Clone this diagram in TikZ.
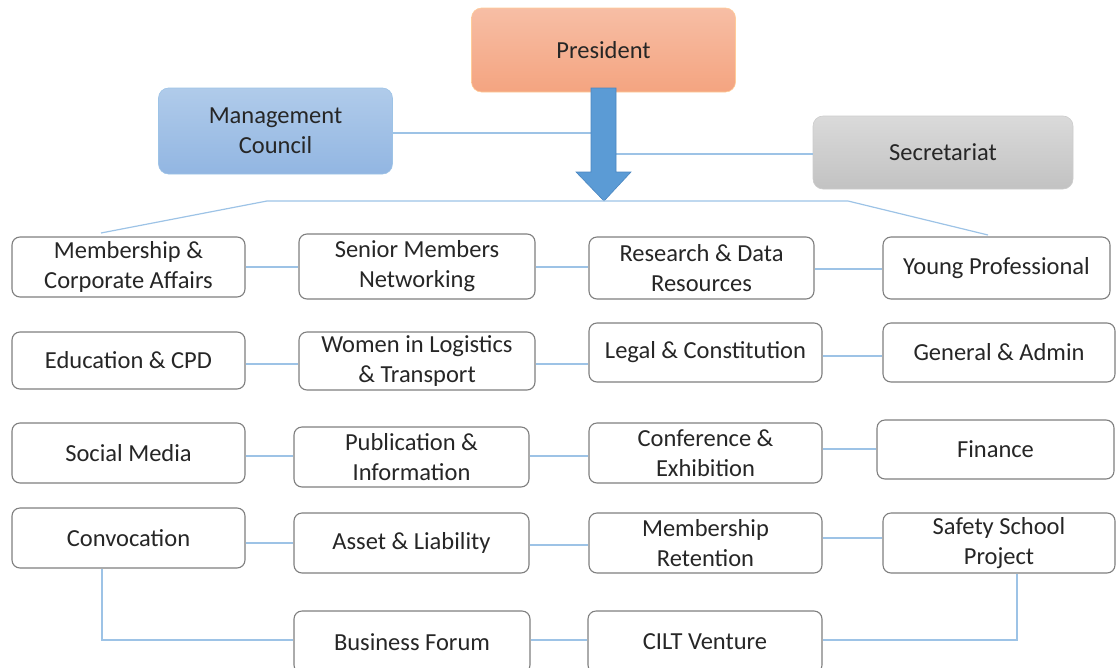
\documentclass[tikz,border=0pt]{standalone}
\usepackage{fontspec}
\setmainfont{Carlito}
\definecolor{txt}{HTML}{262626}
\definecolor{bord}{HTML}{7F7F7F}
\definecolor{conn}{HTML}{9DC3E6}
\definecolor{arrowfill}{HTML}{5B9BD5}
\definecolor{arrowdraw}{HTML}{4A86C0}
\begin{document}
\begin{tikzpicture}[x=1pt,y=-1pt,
  box/.style={draw=bord, line width=1.1pt, rounded corners=8pt, fill=white,
    align=center, text=txt, font=\fontsize{24.5}{30}\selectfont, inner sep=2pt},
  topbox/.style={box, line width=0.6pt, rounded corners=10pt},
  link/.style={draw=conn, line width=1.2pt}]
\useasboundingbox (0,0) rectangle (1116,667);
% top boxes
\node[topbox, draw=orange!40, top color={rgb,255:red,247;green,190;blue,165}, bottom color={rgb,255:red,244;green,164;blue,128},
  minimum width=264pt, minimum height=84pt] (pres) at (603.5,50) {President};
\node[topbox, draw=arrowfill!60, top color={rgb,255:red,176;green,203;blue,234}, bottom color={rgb,255:red,146;green,182;blue,226},
  minimum width=234pt, minimum height=86pt] (mc) at (275.5,131) {Management\\Council};
\node[topbox, draw=gray!40, top color={rgb,255:red,218;green,218;blue,218}, bottom color={rgb,255:red,194;green,194;blue,194},
  minimum width=260pt, minimum height=73pt] (sec) at (943,152.5) {Secretariat};
% arrow
\coordinate (aTL) at (591,88);
\coordinate (aTR) at (616,88);
\coordinate (tip) at (604,201);
\draw[link] (mc.east |- 0,133) -- (aTL |- 0,133);
\draw[link] (aTR |- 0,154) -- (sec.west |- 0,154);
\filldraw[fill=arrowfill, draw=arrowdraw, line width=0.6pt]
  (aTL) -- (aTR) -- (616,172) -- (631,172) -- (tip) -- (576,172) -- (591,172) -- cycle;
% distribution line
\coordinate (dl) at (267,201);
\coordinate (dr) at (848,201);
\coordinate (el) at (101,233);
\coordinate (er) at (988,235);
\draw[link] (el) -- (dl) -- (dr) -- (er);
% row 1
\node[box, minimum width=233pt, minimum height=60pt] (mca) at (128.5,267) {Membership \&\\Corporate Affairs};
\node[box, minimum width=236pt, minimum height=65pt] (smn) at (417,266.5) {Senior Members\\Networking};
\node[box, minimum width=225pt, minimum height=62pt] (rdr) at (701.5,268) {Research \& Data\\Resources};
\node[box, minimum width=227pt, minimum height=62pt] (yp) at (996.5,268) {Young Professional};
% row 2
\node[box, minimum width=233pt, minimum height=57pt] (edu) at (128.5,360.5) {Education \& CPD};
\node[box, minimum width=236pt, minimum height=58pt] (wlt) at (417,361) {Women in Logistics\\\& Transport};
\node[box, minimum width=233pt, minimum height=59pt] (lc) at (705.5,352.5) {Legal \& Constitution};
\node[box, minimum width=232pt, minimum height=59pt] (ga) at (999,352.5) {General \& Admin};
% row 3
\node[box, minimum width=233pt, minimum height=60pt] (sm) at (128.5,453) {Social Media};
\node[box, minimum width=235pt, minimum height=60pt] (pi) at (411.5,457) {Publication \&\\Information};
\node[box, minimum width=233pt, minimum height=60pt] (ce) at (705.5,453) {Conference \&\\Exhibition};
\node[box, minimum width=237pt, minimum height=59pt] (fin) at (995.5,449.5) {Finance};
% row 4
\node[box, minimum width=233pt, minimum height=60pt] (conv) at (128.5,538) {Convocation};
\node[box, minimum width=235pt, minimum height=60pt] (al) at (411.5,543) {Asset \& Liability};
\node[box, minimum width=233pt, minimum height=60pt] (mr) at (705.5,543) {Membership\\Retention};
\node[box, minimum width=232pt, minimum height=60pt] (ssp) at (999,543) {Safety School\\Project};
% row 5
\node[box, minimum width=236pt, minimum height=62pt, text depth=0pt] (bf) at (412,642) {Business Forum};
\node[box, minimum width=234pt, minimum height=62pt] (cilt) at (705,642) {CILT Venture};
% horizontal links
\draw[link] (mca.east |- 0,267) -- (smn.west |- 0,267);
\draw[link] (smn.east |- 0,267) -- (rdr.west |- 0,267);
\draw[link] (rdr.east |- 0,269) -- (yp.west |- 0,269);
\draw[link] (edu.east |- 0,364) -- (wlt.west |- 0,364);
\draw[link] (wlt.east |- 0,364) -- (lc.west |- 0,364);
\draw[link] (lc.east |- 0,356) -- (ga.west |- 0,356);
\draw[link] (sm.east |- 0,456) -- (pi.west |- 0,456);
\draw[link] (pi.east |- 0,456) -- (ce.west |- 0,456);
\draw[link] (ce.east |- 0,449) -- (fin.west |- 0,449);
\draw[link] (conv.east |- 0,543) -- (al.west |- 0,543);
\draw[link] (al.east |- 0,545) -- (mr.west |- 0,545);
\draw[link] (mr.east |- 0,538) -- (ssp.west |- 0,538);
\draw[link] (bf.east |- 0,640) -- (cilt.west |- 0,640);
% elbow links
\coordinate (cb) at (102,640);
\coordinate (sb) at (1017,640);
\draw[link] (conv.south -| cb) -- (cb) -- (bf.west |- cb);
\draw[link] (ssp.south -| sb) -- (sb) -- (cilt.east |- sb);
\end{tikzpicture}
\end{document}
